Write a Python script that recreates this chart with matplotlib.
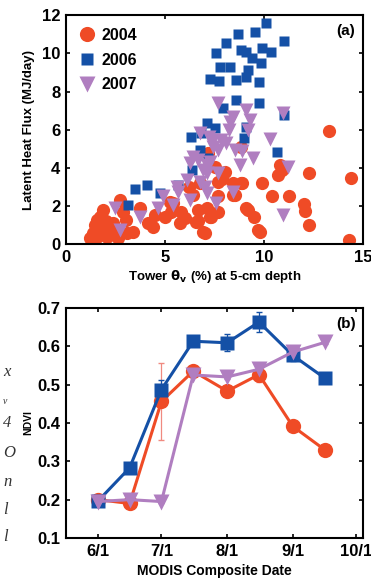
import numpy as np
import matplotlib.pyplot as plt

# panel (a): latent heat flux vs tower soil moisture
x04 = [13.31, 14.4, 14.29, 12.3, 12.27, 12.05, 12.1, 11.29, 10.42, 10.82, 10.7, 10.9, 9.92, 9.78, 9.5,
       9.11, 8.86, 8.9, 8.44, 8.44, 7.68, 7.68, 7.51, 8.02, 7.68, 7.18, 7.26, 7.01, 6.67, 6.67,
       5.83, 5.75, 6.0, 5.24, 5.28, 4.4, 4.15, 4.49, 3.73, 3.4, 3.03, 2.86, 2.72, 2.47, 1.88,
       1.63, 1.55, 1.21, 1.29, 1.71, 2.05, 1.38, 1.88, 2.22, 1.46, 1.71, 2.39, 3.06, 2.64, 6.93,
       5.41, 7.1, 6.76, 6.4, 7.35, 9.7, 9.19, 8.86, 6.59, 7.9, 8.55, 5.0, 6.2, 1.5, 1.8, 2.0]
y04 = [5.93, 3.46, 0.23, 3.72, 1.01, 2.11, 1.76, 2.5, 2.5, 4.15, 3.63, 3.9, 3.23, 0.66, 1.45,
       1.88, 5.11, 3.19, 3.19, 2.58, 3.28, 2.5, 4.07, 3.8, 1.71, 4.76, 1.45, 0.58, 1.8, 1.19,
       1.71, 1.1, 1.36, 2.23, 1.71, 0.92, 1.1, 1.54, 1.88, 0.66, 1.27, 1.71, 2.32, 0.66, 1.8,
       0.75, 1.27, 0.31, 0.14, 0.49, 0.4, 0.58, 0.92, 0.58, 1.01, 1.45, 1.1, 0.58, 0.31, 0.66,
       2.15, 1.88, 3.19, 2.6, 1.45, 0.75, 1.8, 3.19, 1.18, 3.4, 2.6, 1.4, 3.0, 0.3, 0.7, 1.2]

x06 = [10.12, 8.69, 9.56, 8.07, 7.6, 8.86, 9.11, 9.9, 10.37, 11.0, 9.39, 9.86, 7.76, 8.27, 9.18,
       9.08, 8.6, 7.3, 7.74, 9.75, 8.57, 9.75, 7.93, 11.04, 9.08, 8.98, 7.14, 7.51, 6.34, 6.84,
       10.66, 6.76, 7.18, 6.37, 5.66, 4.77, 4.07, 3.48, 3.14]
y06 = [11.6, 11.0, 11.13, 10.56, 10.03, 10.2, 10.09, 10.26, 10.09, 10.65, 9.74, 9.48, 9.3, 9.3, 9.13,
       8.74, 8.6, 8.64, 8.57, 8.52, 7.56, 7.42, 7.12, 6.77, 6.16, 5.55, 6.33, 6.07, 5.64, 5.81,
       4.85, 4.94, 4.5, 3.89, 3.1, 2.7, 3.09, 2.88, 2.06]

x07 = [7.68, 9.08, 10.96, 8.44, 8.27, 9.28, 8.24, 9.19, 6.76, 7.23, 7.43, 7.85, 10.29, 7.43, 7.68,
       8.52, 9.45, 6.42, 6.67, 6.27, 7.1, 8.77, 11.21, 7.1, 7.68, 6.1, 6.76, 7.01, 5.6, 5.68,
       7.1, 8.44, 4.91, 6.25, 5.41, 4.66, 7.6, 10.96, 2.47, 3.73, 2.72, 8.9, 7.3, 6.9, 8.1]
y07 = [7.38, 7.03, 6.89, 6.68, 6.42, 6.51, 5.99, 5.99, 5.81, 5.64, 5.46, 5.46, 5.5, 5.11, 4.94,
       4.94, 4.5, 4.59, 4.42, 4.24, 4.15, 4.15, 4.07, 3.72, 3.72, 3.37, 3.28, 3.02, 3.02, 2.76,
       2.67, 2.76, 2.5, 2.32, 2.06, 1.88, 2.15, 1.54, 1.88, 1.45, 0.75, 4.9, 4.3, 3.9, 5.3]

# panel (b): MODIS NDVI composites (day of year)
doy = [152, 167, 182, 197, 213, 228, 244, 259]
ndvi04 = [0.20, 0.19, 0.456, 0.535, 0.483, 0.526, 0.391, 0.33]
err04 = [0.005, 0.005, 0.10, 0.01, 0.01, 0.02, 0.01, 0.005]
ndvi06 = [0.196, 0.283, 0.487, 0.613, 0.609, 0.663, 0.576, 0.517]
err06 = [0.005, 0.005, 0.025, 0.005, 0.022, 0.025, 0.015, 0.005]
ndvi07 = [0.195, 0.20, 0.195, 0.525, 0.52, 0.54, 0.585, 0.61]
err07 = [0.005, 0.005, 0.005, 0.005, 0.005, 0.01, 0.015, 0.005]
month_ticks = [152, 182, 213, 244, 274]
month_labels = ['6/1', '7/1', '8/1', '9/1', '10/1']

red = '#EF4B26'
blue = '#1450A6'
purple = '#B07EC0'

plt.rcParams['font.family'] = ['Liberation Sans', 'DejaVu Sans']
plt.rcParams['font.weight'] = 'bold'
plt.rcParams['mathtext.fontset'] = 'dejavusans'

fig = plt.figure(figsize=(3.71, 5.87), dpi=100)
ax1 = fig.add_axes([0.178, 0.584, 0.80, 0.39])
ax2 = fig.add_axes([0.178, 0.0835, 0.80, 0.392])

ax1.plot(x04, y04, 'o', color=red, ms=9.5, mec='none', label='2004')
ax1.plot(x06, y06, 's', color=blue, ms=7.4, mec='none', label='2006')
ax1.plot(x07, y07, 'v', color=purple, ms=10, mec='none', label='2007')
ax1.set_xlim(0, 15)
ax1.set_ylim(0, 12)
ax1.set_xticks([0, 5, 10, 15])
ax1.set_yticks(range(0, 13, 2))
ax1.set_ylabel('Latent Heat Flux (MJ/day)', fontsize=9.5, fontweight='bold', labelpad=5)
ax1.set_xlabel(r'Tower $\mathrm{\theta}_\mathbf{v}$ (%) at 5-cm depth', fontsize=9.5, fontweight='bold',
               labelpad=2)
ax1.text(0.975, 0.96, '(a)', transform=ax1.transAxes, ha='right', va='top', fontsize=11, fontweight='bold')
ax1.legend(loc='upper left', frameon=False, handletextpad=0.4, labelspacing=0.6, markerscale=1.15,
           borderaxespad=0.4, handlelength=1.0, prop={'weight': 'bold', 'size': 11.5})

ax2.errorbar(doy, ndvi04, yerr=err04, color=red, ecolor='#F08A80', elinewidth=0.9, capsize=2,
             lw=2.2, marker='o', ms=11, mec='none')
ax2.errorbar(doy, ndvi06, yerr=err06, color=blue, elinewidth=0.9, capsize=2,
             lw=2.2, marker='s', ms=9.5, mec='none')
ax2.errorbar(doy, ndvi07, yerr=err07, color=purple, elinewidth=0.9, capsize=2,
             lw=2.2, marker='v', ms=11.5, mec='none')
ax2.set_xlim(137, 277)
ax2.set_ylim(0.1, 0.7)
ax2.set_xticks(month_ticks)
ax2.set_xticklabels(month_labels)
ax2.set_yticks(np.arange(0.1, 0.71, 0.1))
ax2.set_yticklabels(['0.1', '0.2', '0.3', '0.4', '0.5', '0.6', '0.7'])
ax2.set_ylabel('NDVI', fontsize=7.5, fontweight='bold', labelpad=3)
ax2.set_xlabel('MODIS Composite Date', fontsize=10, fontweight='bold', labelpad=4)
ax2.text(0.975, 0.96, '(b)', transform=ax2.transAxes, ha='right', va='top', fontsize=11, fontweight='bold')

for ax in (ax1, ax2):
    for s in ax.spines.values():
        s.set_linewidth(1.5)
    ax.tick_params(direction='in', top=True, right=True, length=3, width=1.2, labelsize=12, pad=4)
    for lab in ax.get_xticklabels() + ax.get_yticklabels():
        lab.set_fontweight('bold')

# fragments of neighbouring page text at left edge
frag = [('x', 372), ('v', 401), ('4', 423), ('O', 453), ('n', 482), ('l', 510), ('l', 537)]
for ch, yp in frag:
    fig.text(3 / 371, 1 - yp / 587, ch, family='Liberation Serif', style='italic', fontweight='normal',
             fontsize=7 if ch == 'v' else 12, color='#333333', ha='left', va='center')

fig.savefig('out.png', dpi=100)
